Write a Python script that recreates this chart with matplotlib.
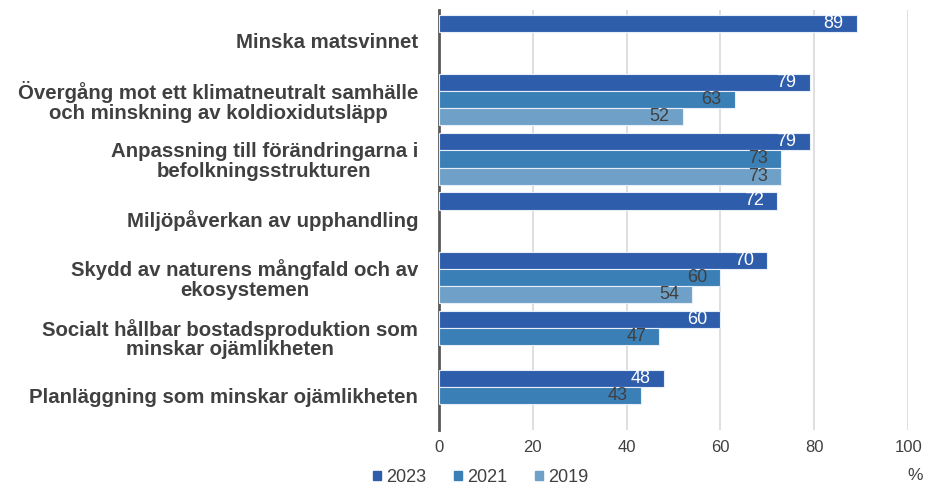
import numpy as np
import matplotlib
matplotlib.use("Agg")
import matplotlib.pyplot as plt
from matplotlib.patches import Patch

plt.rcParams['font.family'] = ['Liberation Sans', 'DejaVu Sans']

categories = [
    "Minska matsvinnet",
    "Övergång mot ett klimatneutralt samhälle\noch minskning av koldioxidutsläpp",
    "Anpassning till förändringarna i\nbefolkningsstrukturen",
    "Miljöpåverkan av upphandling",
    "Skydd av naturens mångfald och av\nekosystemen",
    "Socialt hållbar bostadsproduktion som\nminskar ojämlikheten",
    "Planläggning som minskar ojämlikheten",
]
years = ["2023", "2021", "2019"]
values_2023 = [89, 79, 79, 72, 70, 60, 48]
values_2021 = [None, 63, 73, None, 60, 47, 43]
values_2019 = [None, 52, 73, None, 54, None, None]

colors = ["#2E5DAC", "#3A7FB6", "#6FA1C8"]
label_colors = ["white", "#404040", "#404040"]

fig = plt.figure(figsize=(9.44, 4.86), dpi=100)
ax = fig.add_axes([0.465, 0.115, 0.497, 0.865])

y = np.arange(len(categories))
bar_h = 0.29
series = [values_2023, values_2021, values_2019]
for i, vals in enumerate(series):
    offs = (i - 1) * bar_h
    for j, v in enumerate(vals):
        if v is None:
            continue
        ax.barh(y[j] + offs, v, height=bar_h, color=colors[i],
                edgecolor="#E8EEF7", linewidth=0.8, zorder=3)
        ax.text(v - 2.8, y[j] + offs, str(v), ha="right", va="center",
                fontsize=13, color=label_colors[i], zorder=4)

ax.set_yticks(y)
ax.set_yticklabels(categories, fontsize=14.7, fontweight="bold",
                   color="#404040", linespacing=1.05, multialignment="center")
ax.set_ylim(len(categories) - 0.5 + 0.08, -0.5 - 0.02)
ax.set_xlim(0, 100)
ax.set_xticks(range(0, 101, 20))
ax.tick_params(axis="x", labelsize=12, labelcolor="#404040", length=0, pad=7)
ax.tick_params(axis="y", length=0, pad=15)
ax.grid(axis="x", color="#D9D9D9", linewidth=1.2, zorder=0)
for s in ["top", "right", "bottom"]:
    ax.spines[s].set_visible(False)
ax.spines["left"].set_color("#595959")
ax.spines["left"].set_linewidth(2)

handles = [Patch(color=c, label=yr) for c, yr in zip(colors, years)]
fig.legend(handles=handles, loc="lower left", bbox_to_anchor=(0.378, -0.033),
           ncol=3, frameon=False, fontsize=13, handlelength=0.45,
           handleheight=0.45, handletextpad=0.3, columnspacing=1.5,
           labelcolor="#404040")
fig.text(0.978, 0.006, "%", fontsize=12.5, color="#404040", ha="right", va="bottom")

fig.savefig("out.png", dpi=100)
